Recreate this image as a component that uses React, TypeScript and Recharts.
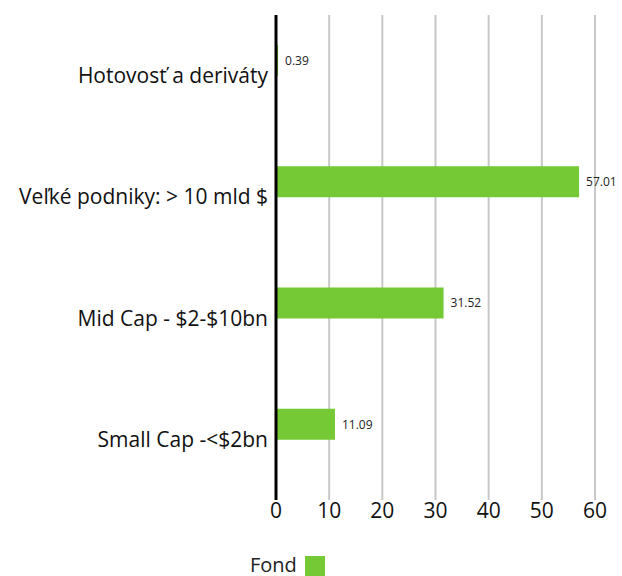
import { Bar, BarChart, CartesianGrid, XAxis, YAxis, Legend, LabelList } from 'recharts';

// categories and values
const categories = ['Hotovosť a deriváty', 'Veľké podniky: > 10 mld $', 'Mid Cap - $2-$10bn', 'Small Cap -<$2bn'];
const fondValues = [0.39, 57.01, 31.52, 11.09];
const xTicks = [0, 10, 20, 30, 40, 50, 60];

const data = categories.map((name, i) => ({ name, fond: fondValues[i] }));

const GREEN = '#74c935';
const FONT = '"Open Sans", sans-serif';

function FondLegend() {
    return (
        <div style={{ height: 24, display: 'flex', alignItems: 'flex-start', paddingLeft: 250, paddingTop: 3, boxSizing: 'border-box' }}>
            <span style={{ fontFamily: FONT, fontSize: 20, color: '#222', lineHeight: '20px' }}>Fond</span>
            <span style={{ display: 'inline-block', width: 20, height: 20, background: GREEN, marginLeft: 8, marginTop: 1 }} />
        </div>
    );
}

export default function App() {
    return (
        <div style={{ position: 'absolute', left: 0, top: 0, width: 622, height: 576, background: '#fff', fontFamily: FONT }}>
            <BarChart
                width={622}
                height={576}
                data={data}
                layout="vertical"
                margin={{ top: 15, right: 27, left: 0, bottom: 0 }}
                barGap={0}
            >
                <CartesianGrid horizontal={false} stroke="#c8c8c8" strokeWidth={2} />
                <XAxis
                    type="number"
                    domain={[0, 60]}
                    ticks={xTicks}
                    axisLine={false}
                    tickLine={false}
                    tickSize={0}
                    tickMargin={3}
                    height={52}
                    tick={{ fontSize: 21, fill: '#111', fontFamily: FONT }}
                />
                <YAxis
                    type="category"
                    dataKey="name"
                    width={276}
                    axisLine={{ stroke: '#000', strokeWidth: 3 }}
                    tickLine={false}
                    tick={{ fontSize: 21, fill: '#111', fontFamily: FONT }}
                />
                <Legend verticalAlign="bottom" content={() => <FondLegend />} />
                <Bar dataKey="fond" name="Fond" fill={GREEN} barSize={31} isAnimationActive={false}>
                    <LabelList dataKey="fond" position="right" offset={7} style={{ fontSize: 12, fill: '#222', fontFamily: FONT }} />
                </Bar>
                <Bar dataKey="none" legendType="none" fill="transparent" barSize={31} isAnimationActive={false} />
            </BarChart>
        </div>
    );
}
